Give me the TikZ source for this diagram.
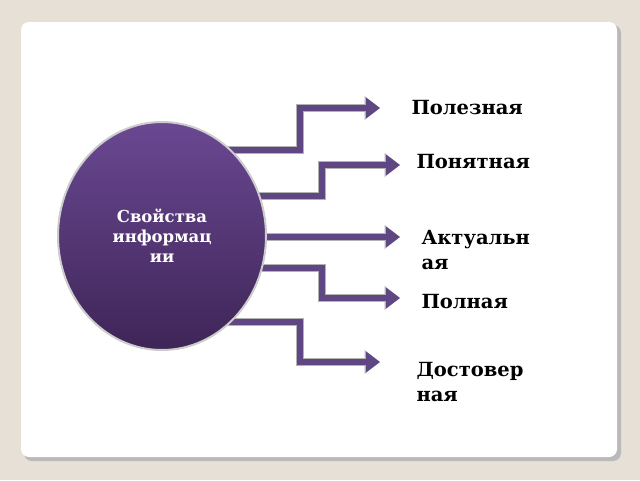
\documentclass[tikz,border=0pt]{standalone}
\usepackage{fontspec}
\setmainfont{DejaVu Serif}
\usetikzlibrary{arrows.meta,shapes.geometric}
\definecolor{bgbeige}{HTML}{E6E0D6}
\definecolor{lilac}{HTML}{5E4783}
\definecolor{plumdark}{HTML}{3E2557}
\definecolor{plumlight}{HTML}{6A4892}
\tikzset{
  branch/.style={draw=lilac, line width=5.5pt, -{Triangle[length=14pt,width=20pt]},
    preaction={draw=gray!60, line width=7.5pt, -{Triangle[length=15.5pt,width=23pt]}}},
  label/.style={anchor=west, font=\bfseries\fontsize{19.5}{25}\selectfont, align=left}
}
\begin{document}
\begin{tikzpicture}[x=1pt,y=-1pt]
  \useasboundingbox (0,0) rectangle (640,480);
  \fill[bgbeige] (0,0) rectangle (640,480);
  \fill[gray!55, rounded corners=8pt] (24,25) rectangle (621,461);
  \fill[white, rounded corners=8pt] (21,22) rectangle (617,457);
  % arrows (drawn behind the circle)
  \coordinate (s1) at (160,150);  \coordinate (e1) at (380,108);
  \coordinate (s2) at (160,196);  \coordinate (e2) at (400,165);
  \coordinate (s3) at (160,237);  \coordinate (e3) at (400,237);
  \coordinate (s4) at (160,268);  \coordinate (e4) at (400,298);
  \coordinate (s5) at (160,322);  \coordinate (e5) at (380,362);
  \draw[branch] (s1) -- (300,150) -- (300,108) -- (e1);
  \draw[branch] (s2) -- (322,196) -- (322,165) -- (e2);
  \draw[branch] (s3) -- (e3);
  \draw[branch] (s4) -- (322,268) -- (322,298) -- (e4);
  \draw[branch] (s5) -- (300,322) -- (300,362) -- (e5);
  \node[ellipse, minimum width=208pt, minimum height=228pt, inner sep=0pt,
    draw=gray!40, line width=2pt, top color=plumlight, bottom color=plumdark,
    text=white, align=center, font=\bfseries\fontsize{16.5}{20}\selectfont]
    (core) at (162,236) {Свойства\\информац\\ии};
  \node[label] (useful) at (408,108) {Полезная};
  \node[label] (clear) at (413,162) {Понятная};
  \node[label] (actual) at (418,250) {Актуальн\\ая};
  \node[label] (full) at (418,302) {Полная};
  \node[label] (true) at (413,382) {Достовер\\ная};
\end{tikzpicture}
\end{document}
